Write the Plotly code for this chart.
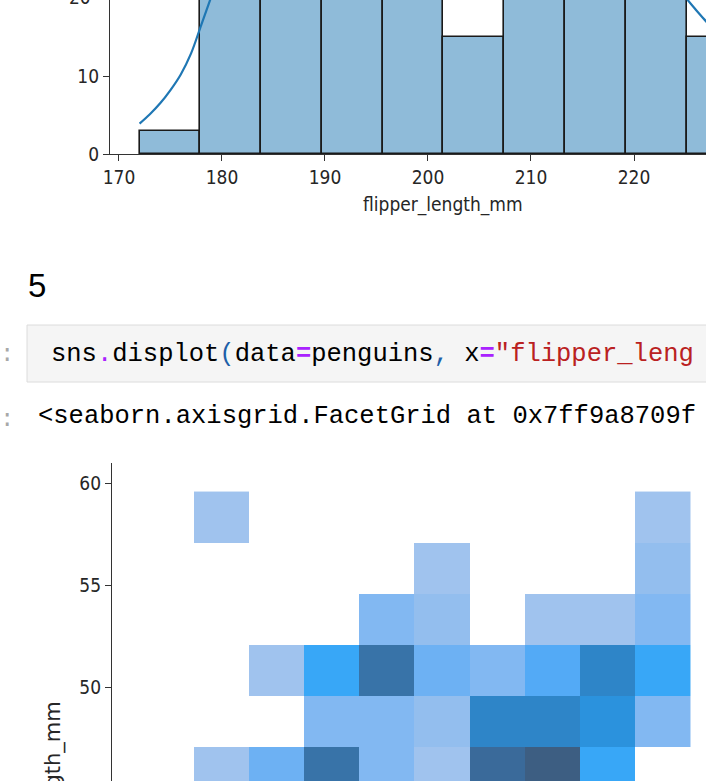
import plotly.graph_objects as go

W, H = 706, 781

# ---------------- data ----------------
# top plot: histogram of flipper_length_mm (10 bins) + kde
flipper_edges = [172.0, 177.9, 183.8, 189.7, 195.6, 201.5, 207.4, 213.3, 219.2, 225.1, 231.0]
hist_counts = [3, 28, 42, 58, 40, 15, 38, 50, 43, 15]
kde_x = [172, 173, 174, 175, 176, 177, 178, 179, 180, 182, 184, 186, 188, 190, 192, 195,
         198, 200, 203, 206, 209, 212, 215, 218, 220, 222, 224, 225, 226, 227, 228, 229, 230, 231]
kde_y = [3.9, 5.1, 6.5, 8.2, 10.2, 12.9, 16.6, 20.3, 24, 31, 38, 43, 46, 47, 45, 40,
         34, 31, 29, 30, 33, 36, 37, 35, 32, 27, 22, 20.1, 18.5, 17.0, 15.5, 14.0, 12.6, 11.3]
hist_xticks = [170, 180, 190, 200, 210, 220]
hist_yticks = [0, 10]

# bottom plot: 2D histogram flipper_length_mm x bill_length_mm (visible rows)
bill_edges = [44.6, 47.1, 49.6, 52.1, 54.6, 57.1, 59.6]
counts2d = [  # rows bottom -> top, columns = flipper bins
    [None, 1, 4, 9, 3, 1, 10, 11, 6, None],
    [None, None, None, 3, 3, 2, 8, 8, 7, 3],
    [None, None, 1, 6, 9, 4, 3, 5, 8, 6],
    [None, None, None, None, 3, 2, None, 1, 1, 3],
    [None, None, None, None, None, 1, None, None, None, 2],
    [None, 1, None, None, None, None, None, None, None, 1],
]
heat_yticks = [50, 55, 60]

# ---------------- helpers ----------------
def px(x):
    return x / W

def py(y):
    return 1 - y / H

TICKFONT = dict(family="DejaVu Sans Condensed, DejaVu Sans", size=19, color="#262626")
AXC = "#333333"
MONO = "Courier New, Nimbus Mono PS, FreeMono, Liberation Mono, monospace"

fig = go.Figure()

centers = [(a + b) / 2 for a, b in zip(flipper_edges[:-1], flipper_edges[1:])]
widths = [b - a for a, b in zip(flipper_edges[:-1], flipper_edges[1:])]
fig.add_trace(go.Bar(
    x=centers, y=hist_counts, width=widths,
    marker=dict(color="rgba(31,119,180,0.5)", line=dict(color="#1a1a1a", width=1.6)),
    xaxis="x", yaxis="y", hoverinfo="skip"))
fig.add_trace(go.Scatter(
    x=kde_x, y=kde_y, mode="lines", line=dict(color="#1f77b4", width=2.2, shape="spline"),
    xaxis="x", yaxis="y", hoverinfo="skip"))

fig.add_trace(go.Heatmap(
    x=flipper_edges, y=bill_edges, z=counts2d, zmin=1, zmax=11,
    colorscale=[[0.0, "#A0C3EE"], [0.1, "#93BEEE"], [0.2, "#82B8F2"], [0.3, "#6DB1F3"],
                [0.4, "#53AAF6"], [0.5, "#38A7F7"], [0.6, "#2B92DD"], [0.7, "#2E85C8"],
                [0.8, "#3873A8"], [0.9, "#3A6A9A"], [1.0, "#3D5E82"]],
    showscale=False, xaxis="x2", yaxis="y2", hoverinfo="skip"))

axis_common = dict(showgrid=False, zeroline=False, showline=True, linecolor=AXC, linewidth=1.3,
                   ticks="outside", ticklen=6, tickwidth=1.3, tickcolor=AXC, tickfont=TICKFONT,
                   automargin=False)

fig.update_layout(
    width=W, height=H, margin=dict(l=0, r=0, t=0, b=0, autoexpand=False),
    paper_bgcolor="white", plot_bgcolor="white", showlegend=False, bargap=0,
    xaxis=dict(domain=[px(110), 1], range=[169.13, 226.99], anchor="y",
               tickvals=hist_xticks, **axis_common),
    yaxis=dict(domain=[py(154), 1], range=[0, 19.744], anchor="x",
               tickvals=hist_yticks, **axis_common),
    xaxis2=dict(domain=[px(112), 1], range=[169.17, 232.66], anchor="y2", visible=False),
    yaxis2=dict(domain=[0, py(463)], range=[45.41, 61.0], anchor="x2",
                tickvals=heat_yticks, **axis_common),
)

# notebook cell box
fig.add_shape(type="rect", xref="paper", yref="paper",
              x0=px(27), x1=px(730), y0=py(382), y1=py(325),
              fillcolor="#f5f5f5", line=dict(color="#dcdcdc", width=1), layer="below")

anns = []
# partially visible tick labels
anns.append(dict(text="20", x=px(93), y=py(-3), xanchor="right", yanchor="middle",
                 font=TICKFONT))
anns.append(dict(text="45", x=px(95), y=py(790), xanchor="right", yanchor="middle",
                 font=TICKFONT))
# axis titles
anns.append(dict(text="flipper_length_mm", x=px(443), y=py(205), xanchor="center",
                 yanchor="middle", font=TICKFONT))
anns.append(dict(text="bill_length_mm", x=px(53), y=py(699), xanchor="center",
                 yanchor="top", textangle=-90,
                 font=dict(family="DejaVu Sans", size=21, color="#262626")))
# markdown heading
anns.append(dict(text="5", x=px(26), y=py(285), xanchor="left", yanchor="middle",
                 font=dict(family="Liberation Sans, Arial", size=33, color="#000000")))
# prompts
for yy in (354, 419):
    anns.append(dict(text=":", x=px(7), y=py(yy), xanchor="center", yanchor="middle",
                     font=dict(family=MONO, size=24, color="#a8a8a8")))
code = ('sns<span style="color:#AA22FF">.</span>displot'
        '<span style="color:#1E5FA8">(</span>data'
        '<span style="color:#AA22FF"><b>=</b></span>penguins'
        '<span style="color:#1E5FA8">,</span> x'
        '<span style="color:#AA22FF"><b>=</b></span>'
        '<span style="color:#BA2121">"flipper_leng</span>')
anns.append(dict(text=code, x=px(49), y=py(354), xanchor="left", yanchor="middle",
                 font=dict(family=MONO, size=25.5, color="#000000")))
anns.append(dict(text="&lt;seaborn.axisgrid.FacetGrid at 0x7ff9a8709f", x=px(36), y=py(416),
                 xanchor="left", yanchor="middle",
                 font=dict(family=MONO, size=25.5, color="#000000")))
for a in anns:
    a.update(xref="paper", yref="paper", showarrow=False)
fig.update_layout(annotations=anns)

fig.write_html("out.html")
